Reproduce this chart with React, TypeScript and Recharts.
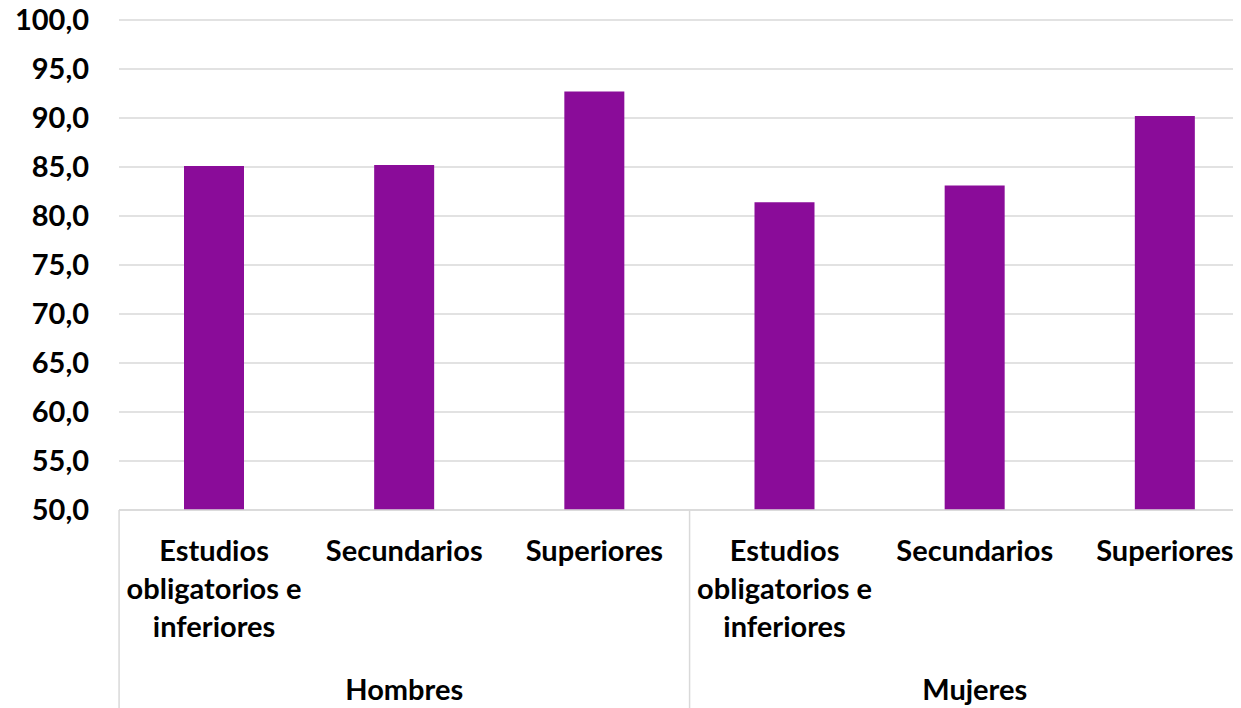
import React from "react";
import { BarChart, Bar, XAxis, YAxis, CartesianGrid } from "recharts";

const categories = [
  "Estudios obligatorios e inferiores",
  "Secundarios",
  "Superiores",
  "Estudios obligatorios e inferiores",
  "Secundarios",
  "Superiores",
];
const categoryLines: string[][] = [
  ["Estudios", "obligatorios e", "inferiores"],
  ["Secundarios"],
  ["Superiores"],
  ["Estudios", "obligatorios e", "inferiores"],
  ["Secundarios"],
  ["Superiores"],
];
const groups = ["Hombres", "Mujeres"];
const values = [85.1, 85.2, 92.7, 81.4, 83.1, 90.2];
const yTicks = [50, 55, 60, 65, 70, 75, 80, 85, 90, 95, 100];

const data = categories.map((c, i) => ({ cat: c, idx: i, value: values[i] }));

const FONT = "Lato, 'Open Sans', sans-serif";
const BAND = 190;
const FS = 29;

const XTick = (props: any) => {
  const { x, y, index } = props;
  const lines = categoryLines[index] || [];
  const half = BAND / 2;
  return (
    <g>
      {lines.map((l, k) => (
        <text
          key={k}
          x={x}
          y={y + 51 + k * 38}
          textAnchor="middle"
          fontFamily={FONT}
          fontWeight={700}
          fontSize={FS}
          fill="#000"
        >
          {l}
        </text>
      ))}
      {index % 3 === 0 && (
        <line x1={x - half} y1={y} x2={x - half} y2={y + 200} stroke="#d9d9d9" strokeWidth={1.5} />
      )}
      {index === 5 && (
        <line x1={x + half} y1={y} x2={x + half} y2={y + 200} stroke="#d9d9d9" strokeWidth={1.5} />
      )}
      {index % 3 === 1 && (
        <text
          x={x}
          y={y + 190}
          textAnchor="middle"
          fontFamily={FONT}
          fontWeight={700}
          fontSize={FS}
          fill="#000"
        >
          {groups[Math.floor(index / 3)]}
        </text>
      )}
    </g>
  );
};

export default function App() {
  return (
    <div style={{ width: 1233, height: 708, overflow: "hidden", marginTop: -8 }}>
      <BarChart
        width={1252}
        height={708}
        data={data}
        margin={{ top: 20, right: 0, bottom: 0, left: 0 }}
        barCategoryGap={0}
      >
        <CartesianGrid vertical={false} stroke="#d9d9d9" strokeWidth={1.5} />
        <XAxis
          dataKey="idx"
          type="category"
          height={198}
          tickLine={false}
          tickSize={0}
          tickMargin={0}
          axisLine={{ stroke: "#d9d9d9", strokeWidth: 1.5 }}
          tick={<XTick />}
          interval={0}
        />
        <YAxis
          width={111}
          domain={[50, 100]}
          ticks={yTicks}
          allowDataOverflow
          axisLine={false}
          tickLine={false}
          tickSize={0}
          tickMargin={30}
          tickFormatter={(v: number) => v.toFixed(1).replace(".", ",")}
          tick={{ fontFamily: FONT, fontWeight: 700, fontSize: FS, fill: "#000" }}
        />
        <Bar dataKey="value" fill="#8a0c99" barSize={60} isAnimationActive={false} />
      </BarChart>
    </div>
  );
}
